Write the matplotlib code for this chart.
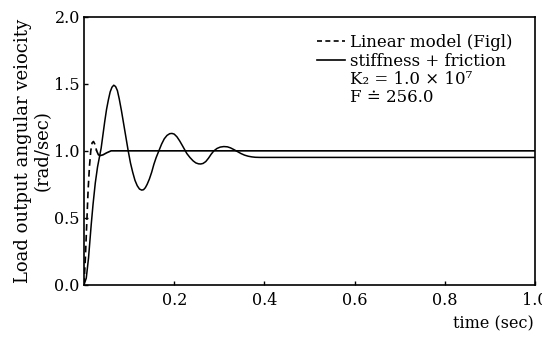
import numpy as np
import matplotlib.pyplot as plt
from matplotlib.lines import Line2D

plt.rcParams['font.family'] = ['DejaVu Serif']

# linear model (Fig1) response
t_lin = [0.0, 0.003, 0.006, 0.009, 0.012, 0.015, 0.018, 0.021, 0.024, 0.028,
         0.032, 0.036, 0.042, 0.050, 0.060, 1.0]
v_lin = [0.0, 0.2, 0.45, 0.7, 0.88, 1.0, 1.06, 1.07, 1.05, 1.0,
         0.97, 0.965, 0.97, 0.985, 1.0, 1.0]

# stiffness + friction response
t_sf = [0.0, 0.005, 0.01, 0.016, 0.02, 0.025, 0.03, 0.034, 0.038, 0.042,
        0.046, 0.05, 0.054, 0.058, 0.062, 0.066, 0.07, 0.074, 0.078, 0.083,
        0.088, 0.093, 0.098, 0.103, 0.108, 0.113, 0.118, 0.123, 0.128, 0.132,
        0.136, 0.14, 0.145, 0.15, 0.155, 0.16, 0.166, 0.172, 0.178, 0.184,
        0.19, 0.195, 0.2, 0.206, 0.212, 0.218, 0.228, 0.235, 0.242, 0.248,
        0.254, 0.259, 0.264, 0.27, 0.276, 0.282, 0.288, 0.295, 0.302, 0.31,
        0.318, 0.325, 0.332, 0.34, 0.348, 0.356, 0.364, 0.372, 0.38, 0.39,
        1.0]
v_sf = [0.0, 0.05, 0.2, 0.45, 0.6, 0.76, 0.88, 0.95, 1.02, 1.12,
        1.22, 1.31, 1.38, 1.44, 1.475, 1.49, 1.48, 1.45, 1.39, 1.3,
        1.2, 1.1, 1.0, 0.91, 0.84, 0.78, 0.74, 0.715, 0.707, 0.71,
        0.725, 0.75, 0.79, 0.84, 0.9, 0.95, 1.0, 1.05, 1.09, 1.115,
        1.128, 1.13, 1.125, 1.105, 1.075, 1.04, 0.98, 0.95, 0.925, 0.91,
        0.903, 0.902, 0.906, 0.92, 0.945, 0.975, 1.0, 1.018, 1.028, 1.032,
        1.03, 1.022, 1.01, 0.995, 0.98, 0.968, 0.96, 0.955, 0.952, 0.951,
        0.951]

xticks = [0.2, 0.4, 0.6, 0.8, 1.0]
yticks = [0.0, 0.5, 1.0, 1.5, 2.0]

fig = plt.figure(figsize=(5.42, 3.44), dpi=100)
ax = fig.add_axes([0.155, 0.172, 0.832, 0.779])

t_lin = np.array(t_lin)
v_lin = np.array(v_lin)
rise = t_lin <= 0.028
ax.plot(t_lin[rise], v_lin[rise], color='black', lw=1.2, dashes=(4, 2.5))
ax.plot(t_lin[t_lin >= 0.028], v_lin[t_lin >= 0.028], color='black', lw=1.2)
ax.plot(t_sf, v_sf, color='black', lw=1.1)

ax.set_xlim(0, 1.0)
ax.set_ylim(0, 2.0)
ax.set_xticks(xticks)
ax.set_xticklabels(['0.2', '0.4', '0.6', '0.8', '1.0'])
ax.set_yticks(yticks)
ax.set_yticklabels(['0.0', '0.5', '1.0', '1.5', '2.0'])
ax.tick_params(direction='in', length=3, labelsize=11.5, width=1)
ax.tick_params(axis='x', pad=5)
ax.tick_params(axis='y', pad=3)
for s in ax.spines.values():
    s.set_linewidth(1.2)

ax.set_ylabel('Load output angular veiocity\n(rad/sec)', fontsize=13,
              linespacing=1.1, labelpad=2)
fig.text(0.985, 0.035, 'time (sec)', ha='right', va='bottom', fontsize=11.5)

handles = [Line2D([], [], color='black', lw=1.2, dashes=(3, 2)),
           Line2D([], [], color='black', lw=1.2)]
labels = ['Linear model (Figl)', 'stiffness + friction']
ax.legend(handles, labels, loc='upper left', frameon=False, fontsize=12,
          handlelength=1.65, handletextpad=0.3, labelspacing=0.12,
          borderaxespad=0.0, borderpad=0.0, bbox_to_anchor=(0.517, 0.935))
ax.text(0.59, 0.765, 'K₂ = 1.0 × 10⁷', transform=ax.transAxes,
        fontsize=12, va='center', ha='left')
ax.text(0.59, 0.698, 'F ≐ 256.0', transform=ax.transAxes,
        fontsize=12, va='center', ha='left')

plt.savefig('out.png', dpi=100)
